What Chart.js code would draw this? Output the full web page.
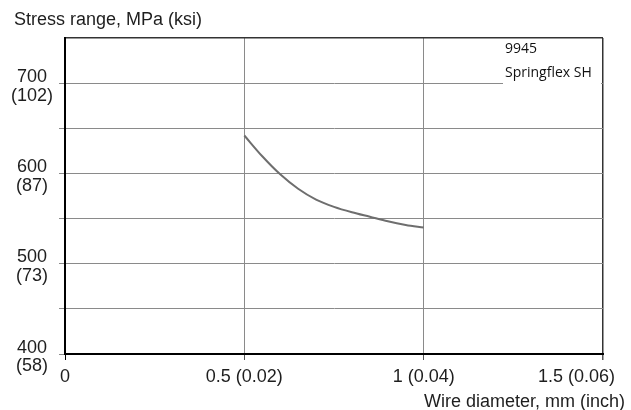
<!DOCTYPE html>
<html>
<head>
<meta charset="utf-8">
<script src="https://cdn.jsdelivr.net/npm/chart.js@4"></script>
<style>
  html, body { margin: 0; padding: 0; background: #fff; }
</style>
</head>
<body>
<canvas id="myChart" width="631" height="410"></canvas>
<script>
// data
const diameters = [0.5, 0.55, 0.6, 0.65, 0.7, 0.75, 0.8, 0.85, 0.9, 0.95, 1.0];
const stressRange = [642, 619, 599, 583, 571, 563, 557, 552, 547, 543, 540];

const mpaTicks = [400, 500, 600, 700];
const ksiTicks = ['(58)', '(73)', '(87)', '(102)'];
const diameterTicks = [0, 0.5, 1, 1.5];
const diameterLabels = ['0', '0.5 (0.02)', '1 (0.04)', '1.5 (0.06)'];
const seriesName = ['9945', 'Springflex SH'];
const yTitle = 'Stress range, MPa (ksi)';
const xTitle = 'Wire diameter, mm (inch)';

const FONT = 'Liberation Sans, Arial, sans-serif';

const textPlugin = {
    id: 'texts',
    afterDraw: (chart) => {
        const ctx = chart.ctx;
        const area = chart.chartArea;
        const xs = chart.scales.x;
        ctx.save();
        ctx.fillStyle = '#1e1e1e';
        ctx.font = `18px ${FONT}`;
        ctx.textBaseline = 'middle';

        // y title
        ctx.textAlign = 'left';
        ctx.fillText(yTitle, 14, 20);

        // x tick labels
        ctx.textAlign = 'center';
        diameterTicks.forEach((v, i) => {
            const w = ctx.measureText(diameterLabels[i]).width;
            const px = Math.min(xs.getPixelForValue(v), chart.width - 16 - w / 2);
            ctx.fillText(diameterLabels[i], px, 377);
        });

        // x title
        ctx.textAlign = 'right';
        ctx.fillText(xTitle, 625, 402);

        // series label box
        ctx.fillStyle = '#fff';
        ctx.fillRect(area.right - 100, area.top + 1, 98, 46);
        ctx.fillStyle = '#111';
        ctx.font = '14px "Open Sans", sans-serif';
        ctx.textAlign = 'left';
        ctx.fillText(seriesName[0], area.right - 98, area.top + 11);
        ctx.fillText(seriesName[1], area.right - 98, area.top + 35);
        ctx.restore();
    }
};

const ctx = document.getElementById('myChart');

new Chart(ctx, {
    type: 'line',
    data: {
        datasets: [{
            label: seriesName.join(' '),
            data: diameters.map((d, i) => ({ x: d, y: stressRange[i] })),
            borderColor: '#6e6e6e',
            borderWidth: 2,
            pointRadius: 0,
            cubicInterpolationMode: 'monotone',
            fill: false
        }]
    },
    options: {
        responsive: false,
        animation: false,
        devicePixelRatio: 1,
        layout: { padding: { top: 38, right: 28, left: 0, bottom: 0 } },
        plugins: {
            legend: { display: false },
            tooltip: { enabled: false }
        },
        scales: {
            x: {
                type: 'linear',
                min: 0,
                max: 1.5,
                ticks: { stepSize: 0.5, display: false },
                grid: {
                    color: (c) => c.tick && c.tick.value === 1.5 ? '#333' : '#8a8a8a',
                    lineWidth: (c) => c.tick && c.tick.value === 1.5 ? 1.5 : 1,
                    tickColor: (c) => c.tick && c.tick.value === 0 ? '#000' : '#555',
                    tickLength: 6
                },
                border: { color: '#000', width: 2 },
                afterFit: (s) => { s.height = 56; }
            },
            y: {
                min: 400,
                max: 750,
                ticks: {
                    stepSize: 50,
                    padding: 6,
                    crossAlign: 'center',
                    labelOffset: 3,
                    color: '#1e1e1e',
                    font: { family: FONT, size: 18, lineHeight: 1.05 },
                    callback: (v) => {
                        const i = mpaTicks.indexOf(v);
                        return i < 0 ? '' : [String(v), ksiTicks[i]];
                    }
                },
                grid: {
                    color: (c) => c.tick && c.tick.value === 750 ? '#333' : '#8a8a8a',
                    lineWidth: (c) => c.tick && c.tick.value === 750 ? 1.5 : 1,
                    tickColor: (c) => c.tick && c.tick.value === 750 ? 'rgba(0,0,0,0)' : '#8a8a8a',
                    tickLength: 6
                },
                border: { color: '#000', width: 2 },
                afterFit: (s) => { s.width = 65; }
            }
        }
    },
    plugins: [textPlugin]
});
</script>
</body>
</html>
